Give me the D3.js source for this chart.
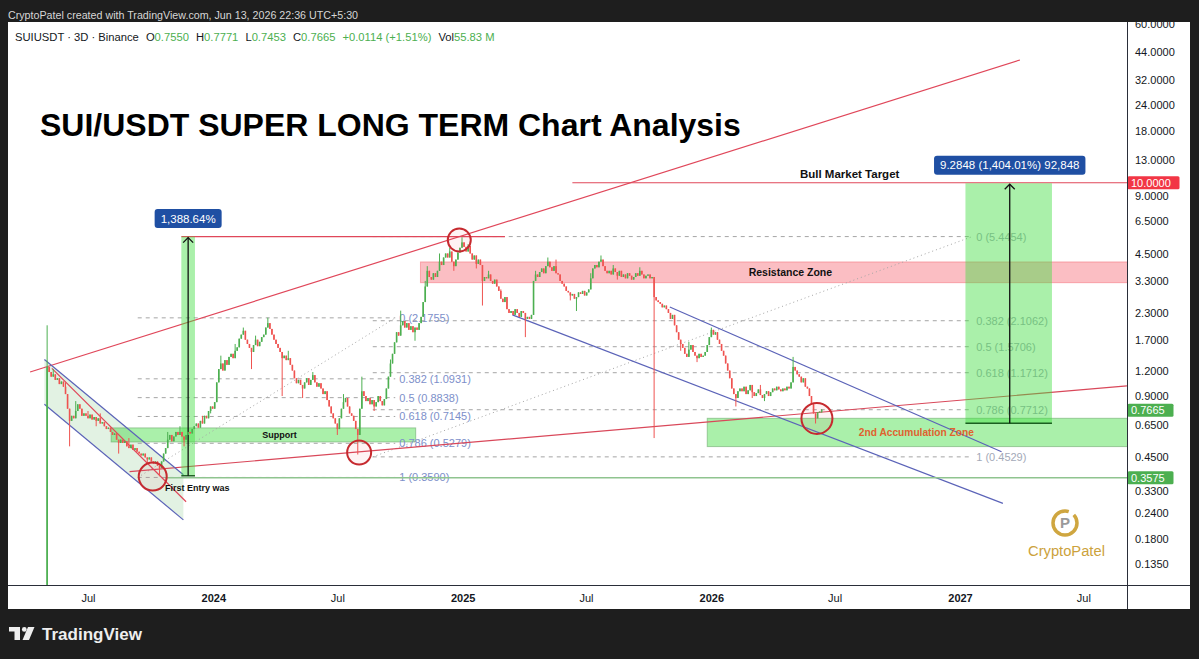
<!DOCTYPE html>
<html><head><meta charset="utf-8"><title>SUI/USDT SUPER LONG TERM Chart Analysis</title>
<script src="https://cdn.jsdelivr.net/npm/d3@7"></script>
<style>html,body{margin:0;padding:0;background:#1e1e1e;overflow:hidden}svg{display:block}</style>
</head><body><svg id="chart" width="1199" height="659"></svg>
<script>
// ---------------- DATA ----------------
const barStart = "2023-05-02";      // first 3D bar
const barDays = 3;
const firstOpen = 0.10;
const lastBar = {o:0.7550, h:0.7771, l:0.7453, c:0.7665};
const closes = [
1.25,1.18,1.12,1.15,1.08,1.10,1.03,1.06,
1.00,0.92,0.78,0.68,0.72,
0.70,0.76,0.82,0.78,0.72,0.74,
0.72,0.70,0.73,0.69,0.71,0.68,0.70,0.66,0.67,0.64,
0.62,0.63,0.60,0.58,0.59,0.55,0.53,
0.55,0.53,0.54,0.51,0.50,0.52,0.49,0.50,
0.48,0.47,0.46,0.47,0.45,0.44,0.45,0.43,0.42,0.43,0.41,0.40,
0.43,0.47,0.50,0.55,0.58,0.54,0.57,0.60,
0.58,0.60,0.57,0.55,0.58,0.60,0.59,0.62,
0.64,0.66,0.63,0.68,0.66,
0.72,0.70,0.76,0.80,0.78,0.84,
1.05,1.22,1.30,1.20,
1.35,1.28,1.40,1.45,1.38,1.50,1.56,
1.72,1.80,1.88,1.70,
1.62,1.55,1.48,1.60,1.70,1.58,1.66,1.75,1.80,
1.95,2.05,1.92,
1.80,1.70,1.62,1.55,1.48,1.38,
1.42,1.35,1.38,1.28,1.20,1.10,1.04,1.08,1.02,0.98,
1.05,1.10,1.02,1.08,1.14,1.05,1.00,1.04,
0.98,0.92,0.95,0.86,0.80,0.74,0.70,0.66,0.62,0.70,
0.78,0.84,0.88,0.80,0.74,
0.72,0.68,0.62,0.58,0.78,
0.95,0.90,0.85,
0.88,0.82,0.86,0.80,0.84,0.90,0.85,0.81,0.87,0.98,
1.12,1.30,1.45,
1.65,1.85,1.78,2.00,2.10,1.95,2.05,1.90,1.98,1.85,
1.95,1.90,2.05,2.20,
2.60,3.10,3.70,
3.45,3.35,3.60,3.45,3.70,4.10,3.95,4.30,
4.50,4.30,4.60,4.10,3.90,4.20,4.55,4.80,
5.10,4.85,4.60,4.90,4.50,
4.20,4.40,4.00,4.20,3.95,
3.30,3.45,3.40,3.55,3.30,3.20,3.35,3.10,
2.95,2.70,2.60,2.75,2.40,2.30,
2.35,2.25,2.40,2.30,2.20,2.35,2.30,2.15,2.20,2.15,2.25,
3.30,3.55,3.45,3.65,
3.80,3.60,3.90,4.10,3.85,3.70,3.90,3.60,3.55,
3.30,3.20,3.10,2.95,2.90,2.80,2.85,2.70,2.75,2.90,
2.85,2.95,2.80,2.90,3.00,3.40,3.80,
3.95,3.85,4.10,4.20,3.90,3.70,
3.60,3.70,3.55,3.80,3.65,3.50,3.70,3.45,3.55,3.40,3.60,3.50,3.35,
3.45,3.60,3.50,3.70,3.55,3.40,3.50,3.55,3.40,3.45,
2.75,
2.65,2.60,2.55,2.45,2.50,2.40,
2.30,2.15,2.25,2.00,
1.85,1.70,1.62,1.55,
1.45,1.40,1.52,1.60,1.48,1.42,1.38,1.45,1.40,1.42,1.48,
1.60,1.75,1.90,1.80,1.85,1.70,1.62,
1.50,1.42,1.30,1.20,1.10,0.98,
0.92,0.88,0.95,
0.98,0.95,1.00,0.92,0.96,1.02,0.94,0.90,0.93,0.97,0.91,0.88,0.92,0.95,0.90,0.94,0.98,0.96,1.00,0.97,0.95,0.98,0.96,1.00,0.98,
1.05,1.25,1.20,1.15,
1.12,1.05,1.10,1.00,0.98,
0.90,0.82,0.74,0.70,
0.75,0.755,0.7665
];
const wickHighs = {0:2.0,3:1.22,9:1.05,14:0.85,20:0.76,26:0.74,40:0.56,59:0.60,65:0.64,76:0.72,85:1.42,92:1.62,96:1.95,102:1.78,108:2.18,118:1.50,130:1.18,145:0.92,154:1.12,168:1.36,173:2.36,185:3.30,186:3.90,192:4.50,197:4.80,203:5.40,206:5.00,216:3.70,222:3.00,239:3.70,245:4.30,249:4.20,266:3.60,271:4.40,277:3.95,290:3.85,314:1.66,325:1.95,349:1.02,365:1.40};
const wickLows = {0:0.10,11:0.51,24:0.64,35:0.47,49:0.42,55:0.364,67:0.51,80:0.74,100:1.22,115:0.90,125:0.88,142:0.58,152:0.465,160:0.76,180:1.68,199:3.70,210:3.80,213:2.50,234:1.75,256:2.65,259:2.35,279:3.35,297:0.56,310:1.50,318:1.32,337:0.80,345:0.88,351:0.85,376:0.66};

const priceTicks = [60,44,32,24,18,13,9,6.5,4.5,3.3,2.3,1.7,1.2,0.9,0.65,0.45,0.33,0.24,0.18,0.135];
const timeTicks = ["2023-07-01","2024-01-01","2024-07-01","2025-01-01","2025-07-01","2026-01-01","2026-07-01","2027-01-01","2027-07-01"];
const timeTickLabels = ["Jul","2024","Jul","2025","Jul","2026","Jul","2027","Jul"];

// drawings anchored on [date, price]
const endDate = "2027-09-20";
const upperTrend = [["2023-04-07",1.181],["2027-03-30",40.0]];
const lowerTrend = [["2023-08-31",0.3835],["2027-09-03",1.009]];
const chan23Top = [["2023-04-28",1.36],["2023-11-18",0.370]];
const chan23Bot = [["2023-04-28",0.82],["2023-11-18",0.2224]];
const chan23Mid = [["2023-05-09",1.23],["2023-11-22",0.273]];
const chan25Top = [["2025-11-01",2.46],["2027-03-03",0.480]];
const chan25Bot = [["2025-03-15",2.25],["2027-03-05",0.268]];
const circleDates = ["2023-10-04","2024-08-02","2024-12-27","2026-06-05"];
const circlePrices = [0.3625,0.476,5.24,0.699];
const supportZone = {from:"2023-08-04", to:"2024-10-24", lo:0.536, hi:0.628, label:"Support", labelDate:"2024-04-07"};
const resistanceZone = {from:"2024-10-31", to:endDate, lo:3.236, hi:4.09, label:"Resistance Zone", labelDate:"2026-04-27"};
const accumZone = {from:"2025-12-26", to:endDate, lo:0.5086, hi:0.700, label:"2nd Accumulation Zone", labelDate:"2026-10-29"};
const measureLeft = {from:"2023-11-15", to:"2023-12-05", mid:"2023-11-25", lo:0.3658, hi:5.4454, label:"1,388.64%"};
const measureRight = {from:"2027-01-09", to:"2027-05-16", mid:"2027-03-15", lo:0.6613, hi:9.9461, label:"9.2848 (1,404.01%) 92,848"};
const athLine = {from:"2023-11-15", to:"2025-03-04", price:5.4454};
const targetLine = {from:"2025-06-11", to:endDate, price:10, label:"Bull Market Target", labelDate:"2026-07-23"};
const entryLine = {from:"2023-10-22", to:endDate, price:0.3575};
const entryText = {date:"2023-10-22", price:0.319, label:"First Entry was"};
const leftFib = {from:"2023-09-12", to:"2024-09-24", levels:[0,0.382,0.5,0.618,0.786,1], prices:[2.1755,1.0931,0.8838,0.7145,0.5279,0.3590]};
const rightFib = {from:"2024-08-22", to:"2027-01-19", levels:[0,0.382,0.5,0.618,0.786,1], prices:[5.4454,2.1062,1.5706,1.1712,0.7712,0.4529]};
const axisMarks = [{v:10,c:"#f23645"},{v:0.7665,c:"#4caf50"},{v:0.3575,c:"#4caf50"}];

// ---------------- SETUP ----------------
const W=1199, H=659;
const P = {l:8, r:1127, t:22, b:585, axisR:1190, panelB:609};
const svg = d3.select("#chart");
const parse = d3.utcParse("%Y-%m-%d");
const DAY = 864e5;
const x = d3.scaleUtc().domain([parse("2023-07-01"), parse("2027-01-01")]).range([88, 960]);
const y = d3.scaleLog().domain([0.1066, 61.4]).range([P.b, P.t]);
const X = s => x(parse(s));
const FONT = "'Liberation Sans', Arial, Helvetica, sans-serif";
const GREEN_FILL = "rgba(66,222,66,0.45)";

function fit(sel, target){
  const w = sel.node().getComputedTextLength();
  const fs = parseFloat(sel.attr("font-size"));
  if (w>0) sel.attr("font-size", (fs*target/w).toFixed(2));
  return sel;
}

svg.append("rect").attr("width",W).attr("height",H).attr("fill","#1e1e1e");
svg.append("rect").attr("x",P.l).attr("y",P.t).attr("width",P.axisR-P.l).attr("height",P.panelB-P.t).attr("fill","#ffffff");

const defs = svg.append("defs");
defs.append("clipPath").attr("id","plotClip").append("rect")
  .attr("x",P.l).attr("y",P.t).attr("width",P.r-P.l).attr("height",P.b-P.t);
defs.append("clipPath").attr("id","axisClip").append("rect")
  .attr("x",P.r).attr("y",P.t).attr("width",P.axisR-P.r).attr("height",P.b-P.t);

const g = svg.append("g").attr("clip-path","url(#plotClip)").attr("font-family",FONT);

// ---------------- ZONES ----------------
function zoneRect(z, fill, stroke){
  g.append("rect").attr("x",X(z.from)).attr("y",y(z.hi))
   .attr("width",X(z.to)-X(z.from)).attr("height",y(z.lo)-y(z.hi))
   .attr("fill",fill).attr("stroke",stroke).attr("stroke-width",1);
}
zoneRect(resistanceZone,"rgba(242,54,69,0.32)","rgba(242,54,69,0.35)");
zoneRect(supportZone,GREEN_FILL,"rgba(110,170,110,0.6)");
zoneRect(accumZone,GREEN_FILL,"rgba(110,170,110,0.6)");

// 2023 descending channel fill
const seg = (a)=>a.map(d=>[X(d[0]),y(d[1])]);
const t = seg(chan23Top), b = seg(chan23Bot);
g.append("path").attr("d",d3.line()([t[0],t[1],b[1],b[0]])+"Z").attr("fill","rgba(76,175,80,0.16)");

// ---------------- FIBS ----------------
function fib(f, labelColor){
  const x0=X(f.from), x1=X(f.to);
  f.prices.forEach((p,k)=>{
    g.append("line").attr("x1",x0).attr("x2",x1).attr("y1",y(p)).attr("y2",y(p))
      .attr("stroke","#a5a5a5").attr("stroke-width",1).attr("stroke-dasharray","4,4");
    g.append("text").attr("x",x1+4).attr("y",y(p)).attr("dy","0.36em")
      .attr("font-size",11).attr("fill",labelColor).text(`${f.levels[k]} (${p.toFixed(4)})`);
  });
  const pl = f.prices[f.prices.length-1], p0 = f.prices[0];
  g.append("line").attr("x1",x0).attr("y1",y(pl)).attr("x2",x1).attr("y2",y(p0))
    .attr("stroke","#a5a5a5").attr("stroke-width",1).attr("stroke-dasharray","1,3");
}
fib(leftFib,"#7d8fca");
fib(rightFib,"#a3a9b8");

// ---------------- LINES ----------------
function trend(a, color, w){
  const s = seg(a);
  g.append("line").attr("x1",s[0][0]).attr("y1",s[0][1]).attr("x2",s[1][0]).attr("y2",s[1][1])
    .attr("stroke",color).attr("stroke-width",w||1.2);
}
trend(upperTrend,"#e0475a");
trend(lowerTrend,"#d9485a");
trend(chan23Top,"#5b63b8");
trend(chan23Bot,"#5b63b8");
trend(chan23Mid,"#e0475a");
trend(chan25Top,"#5b63b8");
trend(chan25Bot,"#5b63b8");
function hline(l, color, w){
  g.append("line").attr("x1",X(l.from)).attr("x2",X(l.to)).attr("y1",y(l.price)).attr("y2",y(l.price))
    .attr("stroke",color).attr("stroke-width",w||1.2);
}
hline(athLine,"#e0475a");
hline(targetLine,"#e0475a");
hline(entryLine,"#8fc48f",1.5);

// ---------------- MEASURES ----------------
function measure(m){
  const x0=X(m.from), x1=X(m.to), xm=X(m.mid), yt=y(m.hi), yb=y(m.lo);
  g.append("rect").attr("x",x0).attr("y",yt).attr("width",x1-x0).attr("height",yb-yt).attr("fill",GREEN_FILL);
  g.append("line").attr("x1",x0).attr("x2",x1).attr("y1",yb).attr("y2",yb).attr("stroke","#1b5e20").attr("stroke-width",1.5);
  g.append("line").attr("x1",xm).attr("x2",xm).attr("y1",yb).attr("y2",yt+1).attr("stroke","#111").attr("stroke-width",1.3);
  g.append("path").attr("d",`M${xm-5},${yt+6}L${xm},${yt+1}L${xm+5},${yt+6}`).attr("fill","none").attr("stroke","#111").attr("stroke-width",1.3);
  const lab = svg.append("g").attr("font-family",FONT);
  const tx = lab.append("text").attr("x",xm).attr("y",yt-18).attr("dy","0.36em").attr("text-anchor","middle")
     .attr("font-size",11.5).attr("fill","#fff").text(m.label);
  const w = tx.node().getComputedTextLength();
  lab.insert("rect","text").attr("x",xm-w/2-6).attr("y",yt-27.5).attr("width",w+12).attr("height",19)
     .attr("rx",3).attr("fill","#1f4fa3");
}
measure(measureLeft);
measure(measureRight);

// ---------------- CANDLES ----------------
const t0 = parse(barStart);
const candles = closes.map((c,i)=>{
  const isLast = i===closes.length-1;
  const o = i===0 ? firstOpen : (isLast ? lastBar.o : closes[i-1]);
  let h = wickHighs[i] ?? Math.max(o,c), l = wickLows[i] ?? Math.min(o,c);
  if (isLast){ h = lastBar.h; l = lastBar.l; }
  return {t:new Date(t0.getTime()+i*barDays*DAY), o, h:Math.max(h,o,c), l:Math.min(l,o,c), c};
});
const cg = g.append("g");
candles.forEach(d=>{
  const cx = x(d.t);
  const col = d.c>=d.o ? "#4caf50" : "#ef5350";
  cg.append("line").attr("x1",cx).attr("x2",cx).attr("y1",y(d.h)).attr("y2",y(d.l)).attr("stroke",col).attr("stroke-width",1);
  const yt=y(Math.max(d.o,d.c)), yb=y(Math.min(d.o,d.c));
  cg.append("rect").attr("x",cx-0.8).attr("width",1.6).attr("y",yt).attr("height",Math.max(1,yb-yt)).attr("fill",col);
});

// ---------------- CIRCLES ----------------
const circleR = [14,12,11.5,15.5];
circleDates.forEach((d,i)=>{
  g.append("circle").attr("cx",X(d)).attr("cy",y(circlePrices[i])).attr("r",circleR[i])
   .attr("fill","rgba(242,54,69,0.06)").attr("stroke","#c62a2f").attr("stroke-width",2);
});

// ---------------- TEXT LABELS ----------------
const zoneMid = z => Math.sqrt(z.lo*z.hi);
g.append("text").attr("x",X(supportZone.labelDate)).attr("y",y(zoneMid(supportZone))).attr("dy","0.36em")
  .attr("text-anchor","middle").attr("font-weight","bold").attr("font-size",9).attr("fill","#111").text(supportZone.label);
g.append("text").attr("x",X(resistanceZone.labelDate)).attr("y",y(zoneMid(resistanceZone))).attr("dy","0.36em")
  .attr("text-anchor","middle").attr("font-weight","bold").attr("font-size",10.5).attr("fill","#111").text(resistanceZone.label);
g.append("text").attr("x",X(accumZone.labelDate)).attr("y",y(zoneMid(accumZone))).attr("dy","0.36em")
  .attr("text-anchor","middle").attr("font-weight","bold").attr("font-size",10.2).attr("fill","#e0622f").text(accumZone.label);
g.append("text").attr("x",X(targetLine.labelDate)).attr("y",y(targetLine.price)-9).attr("dy","0.36em")
  .attr("text-anchor","middle").attr("font-weight","bold").attr("font-size",11.5).attr("fill","#111").text(targetLine.label);
g.append("text").attr("x",X(entryText.date)).attr("y",y(entryText.price)).attr("dy","0.36em")
  .attr("font-weight","bold").attr("font-size",9).attr("fill","#111").text(entryText.label);

// Title
fit(svg.append("text").attr("x",40).attr("y",136).attr("font-family",FONT).attr("font-weight","bold")
  .attr("font-size",32).attr("fill","#000").text("SUI/USDT SUPER LONG TERM Chart Analysis"), 701);

// Header lines
fit(svg.append("text").attr("x",8).attr("y",19).attr("font-family",FONT).attr("font-size",11)
  .attr("fill","#d6d6d6").text("CryptoPatel created with TradingView.com, Jun 13, 2026 22:36 UTC+5:30"), 350);
const hdr = svg.append("text").attr("x",15).attr("y",41).attr("font-family",FONT).attr("font-size",11).attr("fill","#131722");
const GV = "#4caf50";
[["SUIUSDT · 3D · Binance","#131722",0],["O","#131722",7],["0.7550",GV,0],["H","#131722",7],["0.7771",GV,0],
 ["L","#131722",7],["0.7453",GV,0],["C","#131722",7],["0.7665",GV,0],["+0.0114 (+1.51%)",GV,7],["Vol","#131722",7],["55.83 M",GV,0]]
 .forEach(s=>hdr.append("tspan").attr("fill",s[1]).attr("dx",s[2]).text(s[0]));
fit(hdr, 438);

// ---------------- AXES ----------------
const ax = svg.append("g").attr("clip-path","url(#axisClip)");
const yAxis = d3.axisRight(y).tickValues(priceTicks).tickFormat(d3.format(".4f")).tickSize(0).tickPadding(8);
ax.append("g").attr("transform",`translate(${P.r},0)`).call(yAxis)
  .call(s=>s.select(".domain").remove())
  .call(s=>s.selectAll("text").attr("font-family",FONT).attr("font-size",11).attr("fill","#131722"))
  .call(s=>s.selectAll(".tick").each(function(v){
     // nudge tick labels that would sit under a price marker box
     axisMarks.forEach(m=>{
       const d = y(v)-y(m.v);
       if (Math.abs(d) < 13) d3.select(this).select("text").attr("y", (d>=0?13:-13)-d);
     });
  }));
axisMarks.forEach(m=>{
  const yy = y(m.v);
  ax.append("rect").attr("x",P.r+0.5).attr("y",yy-6.5).attr("width",m.v>=10?52:46).attr("height",13).attr("rx",1.5).attr("fill",m.c);
  ax.append("text").attr("x",P.r+4).attr("y",yy).attr("dy","0.36em").attr("font-family",FONT).attr("font-size",11)
    .attr("fill","#fff").text(d3.format(".4f")(m.v));
});

const xAxis = d3.axisBottom(x).tickValues(timeTicks.map(parse)).tickFormat((d,i)=>timeTickLabels[i]).tickSize(0).tickPadding(9);
svg.append("g").attr("transform",`translate(0,${P.b})`).call(xAxis)
  .call(s=>s.select(".domain").remove())
  .call(s=>s.selectAll("text").attr("font-family",FONT).attr("font-size",11).attr("fill","#131722")
      .attr("font-weight",(d,i)=>timeTickLabels[i]==="Jul"?"normal":"bold"));

// separators
svg.append("line").attr("x1",P.r+0.5).attr("x2",P.r+0.5).attr("y1",P.t).attr("y2",P.panelB).attr("stroke","#2a2e39");
svg.append("line").attr("x1",P.l).attr("x2",P.axisR).attr("y1",P.b+0.5).attr("y2",P.b+0.5).attr("stroke","#2a2e39");

// ---------------- LOGOS ----------------
const lg = svg.append("g").attr("fill","#c9a444");
lg.append("circle").attr("cx",1065).attr("cy",523).attr("r",12).attr("fill","none").attr("stroke","#cfa640").attr("stroke-width",3.5)
  .attr("stroke-dasharray","60,6");
lg.append("text").attr("x",1065).attr("y",523).attr("dy","0.36em").attr("text-anchor","middle").attr("font-family",FONT)
  .attr("font-weight","bold").attr("font-size",15).attr("fill","#9a9a9a").text("P");
fit(lg.append("text").attr("x",1028).attr("y",556).attr("font-family",FONT).attr("font-size",13.5).attr("fill","#cca23c").text("CryptoPatel"),77);

const tv = svg.append("g").attr("fill","#eeeeee");
tv.append("rect").attr("x",9).attr("y",627).attr("width",11).attr("height",4.5);
tv.append("rect").attr("x",14.5).attr("y",627).attr("width",5.5).attr("height",13);
tv.append("circle").attr("cx",24.3).attr("cy",629.4).attr("r",2.4);
tv.append("path").attr("d","M28,627h6.5l-5.5,13h-6.5z");
fit(tv.append("text").attr("x",42).attr("y",640).attr("font-family",FONT).attr("font-weight","bold")
  .attr("font-size",17).text("TradingView"),100);
</script></body></html>
